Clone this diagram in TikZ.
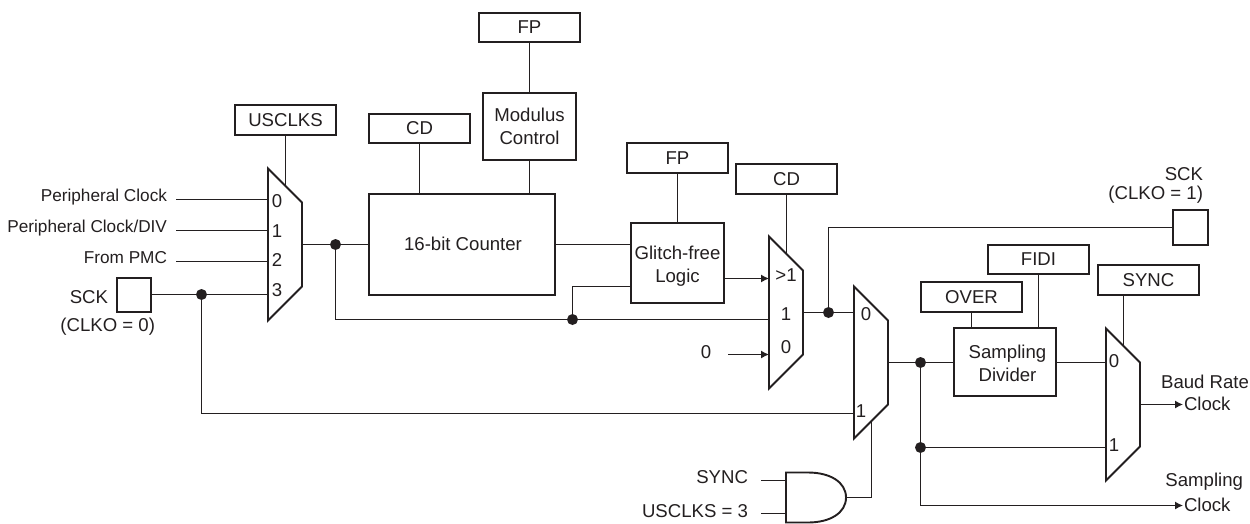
\documentclass[tikz,border=0pt]{standalone}
\usepackage{fontspec}
\setmainfont{Liberation Sans}
\usetikzlibrary{calc,arrows.meta}
\definecolor{ink}{HTML}{231F20}
\tikzset{
  every node/.style={text=ink,font=\fontsize{18.6}{23}\selectfont,inner sep=0pt,outer sep=0pt},
  wire/.style={draw=ink,line width=1.2pt},
  arrowwire/.style={wire,-{Latex[length=8pt,width=8pt]}},
  boxnode/.style={draw=ink,line width=1.9pt,align=center,fill=white},
  ctl/.style={boxnode,minimum width=101pt,minimum height=30pt},
  pad/.style={boxnode,minimum width=34pt,minimum height=34pt},
  dot/.style={circle,fill=ink,minimum size=11pt},
  muxbody/.style={draw=none,minimum width=34pt,minimum height=152pt},
  muxline/.style={draw=ink,line width=1.9pt,line join=miter},
  small/.style={font=\fontsize{17.2}{23}\selectfont}
}
\newcommand{\muxshape}[1]{%
  \draw[muxline] (#1.north west) -- ($(#1.north east)+(0,34)$) -- ($(#1.south east)+(0,-34)$) -- (#1.south west) -- cycle;
  \coordinate (#1top) at ($(#1.north)+(0.5,17)$);
  \coordinate (#1bot) at ($(#1.south)+(0.5,-17)$);
}
\begin{document}
\begin{tikzpicture}[x=1pt,y=-1pt]
\useasboundingbox (0,0) rectangle (1250,523);
% multiplexers (bodies)
\node[muxbody] (m1) at (285,244.5) {};
\node[muxbody] (m2) at (786,312.5) {};
\node[muxbody] (m3) at (871,362.5) {};
\node[muxbody] (m4) at (1123,404.5) {};
\muxshape{m1}\muxshape{m2}\muxshape{m3}\muxshape{m4}
% boxes
\node[ctl] (usclks) at (285.5,120) {USCLKS};
\node[ctl,minimum height=29pt] (cd1) at (419.5,128.5) {CD};
\node[ctl,minimum height=29pt] (fp1) at (529.5,27.5) {FP};
\node[boxnode,minimum width=93pt,minimum height=67pt] (mod) at (529.5,126.5) {Modulus\\Control};
\node[boxnode,minimum width=186pt,minimum height=101pt] (counter) at (462,244.5) {};
\node[boxnode,minimum width=93pt,minimum height=80pt] (glitch) at (677.5,263) {};
\node[ctl] (fp2) at (677.5,158) {FP};
\node[ctl] (cd2) at (786.5,179) {CD};
\node[pad] (sckl) at (134,295) {};
\node[pad,minimum width=35pt,minimum height=35pt] (sckr) at (1190.5,227.5) {};
\node[ctl] (over) at (971.5,297) {OVER};
\node[ctl,minimum height=29pt] (fidi) at (1038.5,259.5) {FIDI};
\node[ctl] (sync) at (1148.5,280) {SYNC};
\node[boxnode,minimum width=102pt,minimum height=68pt] (div) at (1005,362) {};
\node[align=center] (countertext) at (463,243.5) {16-bit Counter};
\node[align=center] (glitchtext) at (677.5,266) {Glitch-free\\Logic};
\node[align=center] (divtext) at (1007.5,363.5) {Sampling\\Divider};
% AND gate
\node[minimum width=60pt,minimum height=50pt] (andg) at (816,497.5) {};
\draw[muxline] (andg.north west) -- (808,472.5) .. controls (830,472.5) and (846,482) .. (andg.east) .. controls (846,513) and (830,522.5) .. (808,522.5) -- (andg.south west) -- cycle;
% junctions
\node[dot] (j1) at (335.5,244.5) {};
\node[dot] (j2) at (201.5,294.5) {};
\node[dot] (j3) at (572.5,319.5) {};
\node[dot] (j4) at (828.5,312.5) {};
\node[dot] (j5) at (920.5,362.5) {};
\node[dot] (j6) at (920.5,447.5) {};
% free ends
\coordinate (in0) at (176,199.5);
\coordinate (in1) at (176,230.5);
\coordinate (in2) at (176,261.5);
\coordinate (zero) at (728,354.5);
\coordinate (syncin) at (761,480.5);
\coordinate (uscin) at (761,513.5);
\coordinate (baud) at (1183,404.5);
\coordinate (samp) at (1183,505.5);
% wires
\draw[wire] (usclks) -- (m1top);
\draw[wire] (cd1) -- (cd1|-counter.north);
\draw[wire] (fp1) -- (fp1|-mod.north);
\draw[wire] (mod) -- (mod|-counter.north);
\draw[wire] (fp2) -- (fp2|-glitch.north);
\draw[wire] (cd2) -- (m2top);
\draw[wire] (over) -- (over|-div.north);
\draw[wire] (fidi) -- (fidi|-div.north);
\draw[wire] (m4top|-sync.south) -- (m4top);
\draw[wire] (in0) -- (m1.west|-in0);
\draw[wire] (in1) -- (m1.west|-in1);
\draw[wire] (in2) -- (m1.west|-in2);
\draw[wire] (sckl.east|-j2) -- (j2) -- (m1.west|-j2);
\draw[wire] (m1.east) -- (j1) -- (counter.west|-j1);
\draw[wire] (j1) |- (j3) -- (m2.west|-j3);
\draw[wire] (counter.east|-j1) -- (glitch.west|-j1);
\draw[wire] (glitch.west|-0,286.5) -| (j3);
\draw[arrowwire] (glitch.east|-0,278.5) -- (m2.west|-0,278.5);
\draw[arrowwire] (zero) -- (m2.west|-zero);
\draw[wire] (m2.east) -- (j4) -- (m3.west|-j4);
\draw[wire] (j4) |- (sckr.west);
\draw[wire] (j2) |- (m3.west|-0,413.5);
\draw[wire] (m3.east) -- (j5) -- (div.west|-j5);
\draw[wire] (div.east|-j5) -- (m4.west|-j5);
\draw[wire] (j5) -- (j6) -- (m4.west|-j6);
\draw[arrowwire] (j6) |- (samp);
\draw[arrowwire] (m4.east) -- (baud);
\draw[wire] (syncin) -- (andg.west|-syncin);
\draw[wire] (uscin) -- (andg.west|-uscin);
\draw[wire] (andg.east) -| (m3bot);
% labels
\node[anchor=east,small] (lp0) at (167,197) {Peripheral Clock};
\node[anchor=east,small] (lp1) at (167,228) {Peripheral Clock/DIV};
\node[anchor=east,small] (lp2) at (167,258) {From PMC};
\node[anchor=east] (lsck) at (108,297) {SCK};
\node[anchor=east] (lclk0) at (155,327) {(CLKO = 0)};
\node (a0) at (277,201) {0};
\node (a1) at (277,231) {1};
\node (a2) at (277,260) {2};
\node (a3) at (277,290) {3};
\node (b0) at (786,275) {>1};
\node (b1) at (786,314) {1};
\node (b2) at (786,347) {0};
\node (zlab) at (706,352) {0};
\node (c0) at (866,314) {0};
\node (c1) at (861,411) {1};
\node (d0) at (1114,361) {0};
\node (d1) at (1114,445) {1};
\node[anchor=east] (lsync) at (748,477) {SYNC};
\node[anchor=east] (lusc) at (748,511) {USCLKS = 3};
\node[anchor=east] (lsckr) at (1203,174) {SCK};
\node[anchor=east] (lclk1) at (1203,195) {(CLKO = 1)};
\node[anchor=east] (lbaud) at (1249,382) {Baud Rate};
\node[anchor=west] (lck1) at (1184,404) {Clock};
\node[anchor=east] (lsamp) at (1243,482) {Sampling};
\node[anchor=west] (lck2) at (1184,505) {Clock};
\end{tikzpicture}
\end{document}
